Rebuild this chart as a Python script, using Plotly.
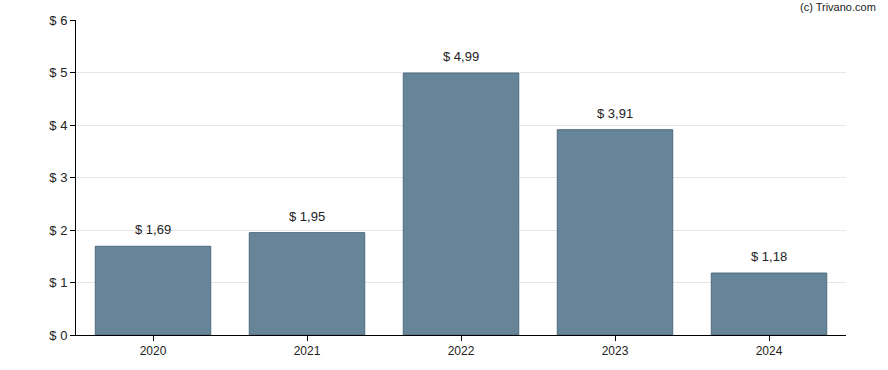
import plotly.graph_objects as go

years = ["2020", "2021", "2022", "2023", "2024"]
values = [1.69, 1.95, 4.99, 3.91, 1.18]
labels = ["$ 1,69", "$ 1,95", "$ 4,99", "$ 3,91", "$ 1,18"]
tick_vals = [0, 1, 2, 3, 4, 5, 6]
tick_text = ["$ 0", "$ 1", "$ 2", "$ 3", "$ 4", "$ 5", "$ 6"]

FONT = "Arial, 'Liberation Sans', sans-serif"

fig = go.Figure(go.Bar(
    x=years, y=values,
    marker=dict(color="#678598", line=dict(color="#4f6b80", width=1)),
    hoverinfo="skip",
))
annotations = [dict(x=i, y=v, text=t, xref="x", yref="y", showarrow=False,
                    yanchor="bottom", yshift=7,
                    font=dict(family=FONT, size=13, color="#222222"))
               for i, (v, t) in enumerate(zip(values, labels))]
annotations.append(dict(text="(c) Trivano.com", xref="paper", yref="paper",
                        x=1.0, y=1.0, xanchor="right", yanchor="bottom",
                        xshift=32, yshift=5, showarrow=False,
                        font=dict(family=FONT, size=11, color="#222222")))
fig.update_layout(
    width=888, height=370,
    margin=dict(l=76, r=42, t=20, b=35),
    paper_bgcolor="white", plot_bgcolor="white",
    font=dict(family=FONT, size=12, color="#222222"),
    bargap=0.25, showlegend=False,
    annotations=annotations,
)
fig.update_xaxes(type="category", range=[-0.5, len(years) - 0.5],
                 showline=True, linecolor="black", linewidth=1,
                 ticks="outside", ticklen=5, tickcolor="black",
                 tickfont=dict(size=12),
                 showgrid=False, fixedrange=True)
fig.update_yaxes(range=[0, 6], tickvals=tick_vals, ticktext=tick_text,
                 showline=True, linecolor="black", linewidth=1,
                 ticks="outside", ticklen=5, tickcolor="black",
                 tickfont=dict(size=13),
                 gridcolor="#e6e6e6", zeroline=False, fixedrange=True)
fig.write_html("out.html", config={"displayModeBar": False},
               post_script="document.body.style.margin='0';document.body.style.overflow='hidden';")
